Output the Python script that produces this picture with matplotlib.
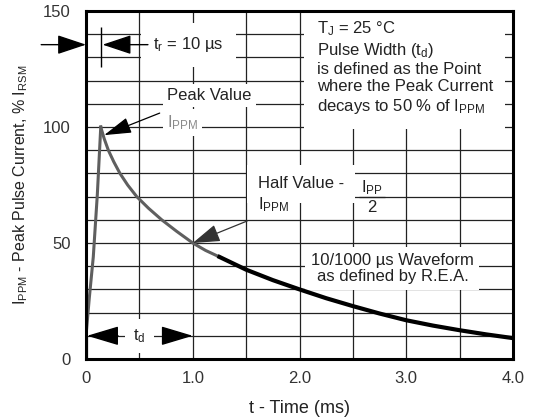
import matplotlib
matplotlib.use('Agg')
import matplotlib.pyplot as plt
import numpy as np

plt.rcParams['font.family'] = ['Liberation Sans', 'DejaVu Sans']
plt.rcParams['mathtext.fontset'] = 'custom'
plt.rcParams['mathtext.rm'] = 'Liberation Sans'
plt.rcParams['mathtext.it'] = 'Liberation Sans:italic'

# 読み取った波形データ (t [ms], % of I_PPM)
base_t = [0.0, 0.0]
base_i = [0, 10]
rise_t = [0.0, 0.03, 0.068, 0.106, 0.138]
rise_i = [10, 26, 44, 71, 100]
decay_t = [0.138, 0.17, 0.209, 0.26, 0.318, 0.39, 0.475, 0.585, 0.709, 0.85, 1.0, 1.12, 1.25]
decay_i = [100, 95, 90, 85, 80, 75, 70, 65, 60, 55, 50, 46.8, 44]
tail_t = [1.25, 1.5, 1.75, 2.0, 2.25, 2.5, 2.75, 3.0, 3.25, 3.5, 3.75, 4.0]
tail_i = [44, 38.5, 34, 30, 26.2, 22.8, 19.6, 16.7, 14.4, 12.4, 10.6, 9]

x_ticks = [0, 1.0, 2.0, 3.0, 4.0]
x_labels = ['0', '1.0', '2.0', '3.0', '4.0']
y_ticks = [0, 50, 100, 150]

fig = plt.figure(figsize=(5.33, 4.19), dpi=100)
ax = fig.add_axes([0.1614, 0.1432, 0.8011, 0.8305])
ax.set_xlim(0, 4.0)
ax.set_ylim(0, 150)

ax.set_xticks(x_ticks)
ax.set_xticklabels(x_labels)
ax.set_yticks(y_ticks)
ax.set_xticks(np.arange(0, 4.01, 0.5), minor=True)
ax.set_yticks(np.arange(0, 151, 10), minor=True)
ax.tick_params(which='both', length=0, labelsize=12, colors='#333333')
ax.tick_params(axis='x', pad=9)
ax.tick_params(axis='y', pad=11)
ax.set_axisbelow(True)
ax.grid(which='both', color='#222222', lw=0.9)
for s in ax.spines.values():
    s.set_linewidth(2.2)
    s.set_color('black')
    s.set_zorder(5)

# 波形
ax.plot(base_t, base_i, color='black', lw=3, solid_capstyle='butt', zorder=4)
ax.plot(rise_t, rise_i, color='#5f5f5f', lw=2.2, zorder=4)
ax.plot(decay_t, decay_i, color='#5f5f5f', lw=2.2, zorder=4)
ax.plot(tail_t, tail_i, color='black', lw=3, zorder=4)

ax.set_xlabel('t - Time (ms)', fontsize=13, color='#222222', labelpad=10)
ax.set_ylabel(r'I$_\mathrm{PPM}$ - Peak Pulse Current, % I$_\mathrm{RSM}$',
              fontsize=11.5, color='#222222', labelpad=9)

white = dict(fc='white', ec='none', pad=3)
tc = '#222222'

def arrow(tail, tip, color='black', hl=1.8, hw=0.5, lw=1.0):
    ax.annotate('', xy=tip, xytext=tail, annotation_clip=False,
                arrowprops=dict(arrowstyle='-|>,head_length=%g,head_width=%g' % (hl, hw),
                                mutation_scale=10, color=color, lw=lw,
                                shrinkA=0, shrinkB=0), zorder=4)

# t_r
arrow((-0.42, 135.5), (0.0, 135.5), hl=1.8, hw=0.6)
ax.vlines(0.14, 126, 143, color='black', lw=1, zorder=4)
arrow((0.58, 135.5), (0.155, 135.5), hl=1.8, hw=0.6)
ax.text(0.63, 135.5, r't$_\mathrm{r}$ = 10 µs', fontsize=12, color=tc, va='center',
        ha='left', zorder=3, bbox=dict(fc='white', ec='none', pad=9))

# 右上の説明
ax.text(2.16, 146.5,
        'T$_\\mathrm{J}$ = 25 °C\nPulse Width (t$_\\mathrm{d}$)\nis defined as the Point\n'
        'where the Peak Current\ndecays to 50 % of I$_\\mathrm{PPM}$',
        fontsize=12, color=tc, va='top', ha='left', linespacing=1.2,
        zorder=3, bbox=dict(fc='white', ec='none', pad=9))

# Peak Value
ax.text(0.76, 113.5, 'Peak Value', fontsize=12, color=tc, va='center', ha='left',
        zorder=3, bbox=white)
ax.text(0.76, 102, r'I$_\mathrm{PPM}$', fontsize=12, color='#8a8a8a', va='center',
        ha='left', zorder=3, bbox=white)
arrow((0.69, 106), (0.17, 96.5), color='black', hl=1.7, hw=0.5, lw=0.9)

# Half Value
ax.text(1.61, 75.5, 'Half Value -', fontsize=12, color=tc, va='center', ha='left',
        zorder=3, bbox=dict(fc='white', ec='none', pad=8))
ax.text(1.61, 66.5, r'I$_\mathrm{PPM}$', fontsize=12, color=tc, va='center',
        ha='left', zorder=3, bbox=white)
ax.text(2.68, 74, r'I$_\mathrm{PP}$', fontsize=12, color=tc, va='center', ha='center',
        zorder=3)
ax.hlines(70, 2.56, 2.80, color=tc, lw=0.9, zorder=3)
ax.text(2.68, 65.5, '2', fontsize=12, color=tc, va='center', ha='center', zorder=3)
arrow((1.51, 59.5), (1.0, 50), color='#333333', hl=1.7, hw=0.55, lw=0.9)

# 10/1000 us
ax.text(2.87, 39, '10/1000 µs Waveform\nas defined by R.E.A.', fontsize=12, color=tc,
        va='center', ha='center', linespacing=1.15, zorder=3,
        bbox=dict(fc='white', ec='none', pad=4))

# t_d
ax.text(0.5, 10, r't$_\mathrm{d}$', fontsize=12, color=tc, va='center', ha='center',
        zorder=3, bbox=dict(fc='white', ec='none', pad=6))
arrow((0.3, 10), (0.01, 10), hl=2.0, hw=0.6)
arrow((0.72, 10), (1.0, 10), hl=2.0, hw=0.6)

fig.savefig('out.png', dpi=100)
